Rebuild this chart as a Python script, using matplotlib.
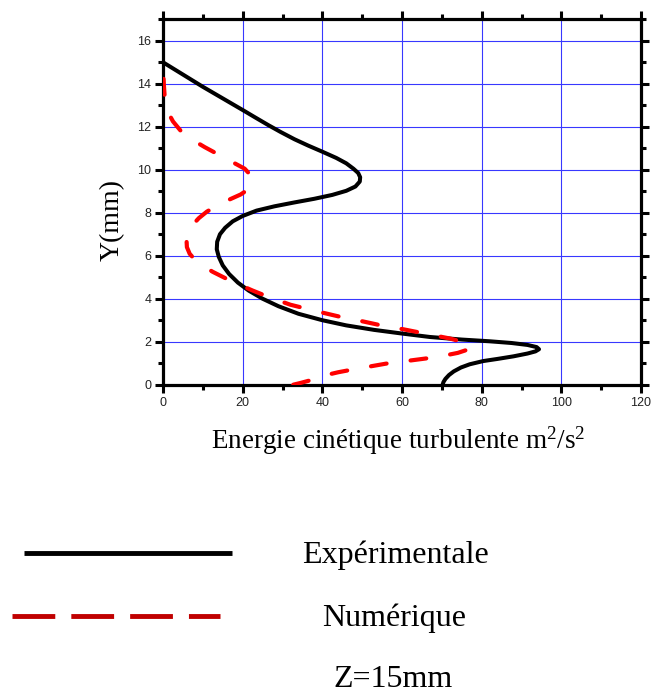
# -*- coding: utf-8 -*-
# Turbulent kinetic energy profile, Z=15mm: experiment vs simulation

import matplotlib
matplotlib.use("Agg")
import matplotlib.pyplot as plt
from matplotlib.lines import Line2D
from matplotlib.ticker import MultipleLocator

# Data (k in m2/s2, Y in mm)
exp_k = [70.2, 70.4, 70.9, 71.8, 73, 74.8, 77, 80.4, 84, 88, 91.5, 93.5, 94.4, 93.8,
         91.5, 87.5, 82, 75, 67, 60, 53, 46, 40, 34, 29, 25, 21.5, 18.8, 16.6, 15,
         14, 13.5, 13.6, 14.3, 15.6, 17.5, 20, 23.5, 28, 33, 38, 42.5, 46, 48.3, 49.4,
         49.5, 49, 47.8, 46, 43.5, 40, 36.5, 33, 29.5, 26.5, 23, 20, 15, 10, 5, 0]
exp_y = [0, 0.12, 0.27, 0.45, 0.62, 0.8, 0.95, 1.1, 1.2, 1.32, 1.45, 1.55, 1.65, 1.75,
         1.85, 1.94, 2.02, 2.1, 2.22, 2.38, 2.55, 2.76, 3.0, 3.3, 3.65, 4.0, 4.38, 4.75,
         5.15, 5.55, 5.95, 6.3, 6.65, 7.0, 7.3, 7.6, 7.85, 8.1, 8.3, 8.48, 8.65, 8.83,
         9.02, 9.22, 9.45, 9.65, 9.85, 10.05, 10.3, 10.55, 10.84, 11.12, 11.42, 11.76,
         12.07, 12.45, 12.78, 13.32, 13.86, 14.43, 15.0]

num_k = [32.7, 34.5, 36.5, 38.5, 41, 44, 48, 52, 56, 61, 66, 70.5, 74, 76.3, 77.4, 77,
         75, 72, 66, 60.3, 55, 50.3, 44, 38.5, 32, 26.8, 22.5, 18.8, 15.5, 12.5, 10, 8,
         6.7, 6, 5.9, 6.4, 7.5, 9, 11, 13.5, 16.5, 19.5, 21.5, 22.3, 22, 20.5, 17.5,
         14, 10.5, 7.5, 4.5, 2.5, 1.2, 0.5, 0.2, 0]
num_y = [0, 0.08, 0.18, 0.3, 0.45, 0.58, 0.72, 0.85, 0.98, 1.1, 1.22, 1.35, 1.48, 1.62,
         1.76, 1.88, 2.0, 2.15, 2.37, 2.58, 2.75, 2.94, 3.18, 3.42, 3.72, 4.06, 4.38,
         4.68, 4.97, 5.25, 5.53, 5.82, 6.09, 6.4, 6.75, 7.1, 7.45, 7.75, 8.05, 8.33,
         8.6, 8.85, 9.1, 9.4, 9.75, 10.05, 10.35, 10.7, 11.05, 11.38, 11.8, 12.25,
         12.7, 13.2, 14.0, 15.0]

x_label = "Energie cinétique turbulente m$\\mathregular{^2}$/s$\\mathregular{^2}$"
y_label = "Y(mm)"
legend_labels = ["Expérimentale", "Numérique"]
note = "Z=15mm"

plt.rcParams['font.family'] = ['Liberation Serif', 'DejaVu Serif']
plt.rcParams['mathtext.fontset'] = 'custom'
plt.rcParams['mathtext.rm'] = 'Liberation Serif'

W, H = 666, 694
fig = plt.figure(figsize=(W / 100, H / 100), dpi=100)
ax = fig.add_axes([163 / W, 1 - 384.7 / H, 478 / W, 365.4 / H])

ax.plot(exp_k, exp_y, color='black', lw=2.9, solid_joinstyle='round',
        solid_capstyle='round', zorder=3)
ax.plot(num_k, num_y, color='#ff0000', lw=3, linestyle=(0, (3.8, 5.8)),
        dash_capstyle='round', dash_joinstyle='round', zorder=4)

ax.set_xlim(0, 120)
ax.set_ylim(0, 17)
ax.xaxis.set_major_locator(MultipleLocator(20))
ax.xaxis.set_minor_locator(MultipleLocator(10))
ax.yaxis.set_major_locator(MultipleLocator(2))
ax.yaxis.set_minor_locator(MultipleLocator(1))
ax.grid(True, which='major', color='#3838ff', lw=0.8, zorder=1)
ax.set_axisbelow(True)

for s in ax.spines.values():
    s.set_linewidth(2.3)
ax.tick_params(which='both', direction='out', top=True, right=True, width=2.2,
               labelsize=9, labelfontfamily='Liberation Sans', labelcolor='#222222')
ax.tick_params(which='major', length=5.5)
ax.tick_params(which='minor', length=3.5)
ax.tick_params(axis='x', pad=3.5)
ax.tick_params(axis='y', pad=3)

fig.text(398 / W, 1 - 449 / H, x_label, ha='center', va='baseline', fontsize=19.5)
fig.text(112 / W, 1 - 220 / H, y_label, ha='center', va='center', rotation=90,
         fontsize=20)

# legend drawn beneath the plot
fig.add_artist(Line2D([24 / W, 232 / W], [1 - 553 / H, 1 - 553 / H], color='black',
                      lw=3.5, solid_capstyle='butt'))
fig.add_artist(Line2D([12 / W, 220 / W], [1 - 616 / H, 1 - 616 / H], color='#c00000',
                      lw=3.5, solid_capstyle='butt', linestyle=(0, (8.8, 3.3)),
                      dash_capstyle='butt'))
fig.text(395 / W, 1 - 563 / H, legend_labels[0], ha='center', va='baseline', fontsize=23)
fig.text(394 / W, 1 - 626 / H, legend_labels[1], ha='center', va='baseline', fontsize=23)
fig.text(393 / W, 1 - 687 / H, note, ha='center', va='baseline', fontsize=23)

fig.savefig("out.png", dpi=100)
